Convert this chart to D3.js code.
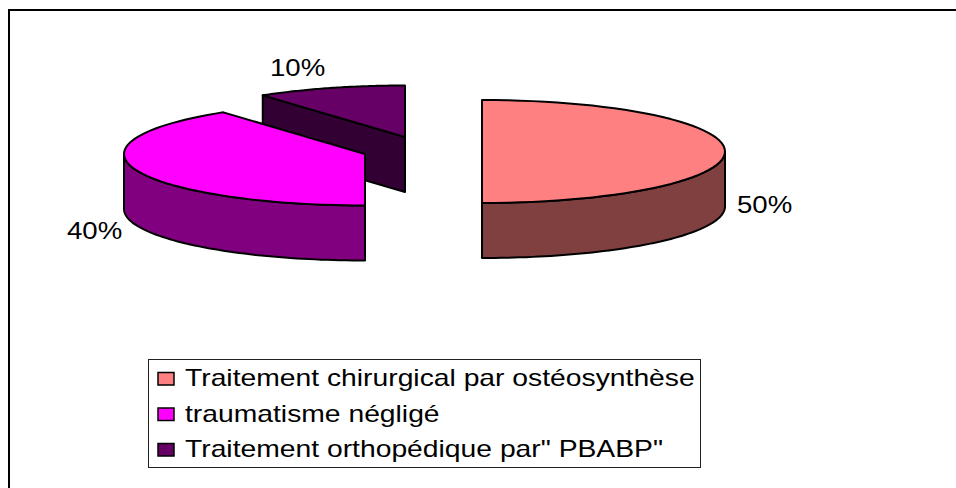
<!DOCTYPE html>
<html>
<head>
<meta charset="utf-8">
<script src="https://cdnjs.cloudflare.com/ajax/libs/d3/7.8.5/d3.min.js"></script>
<style>
body { margin: 0; background: #fff; }
svg { display: block; }
text { font-family: "Liberation Sans", Arial, sans-serif; fill: #000; }
</style>
</head>
<body>
<svg id="chart" width="956" height="488"></svg>
<script>
// chart values
var categories = ["Traitement chirurgical par ostéosynthèse", "traumatisme négligé", "Traitement orthopédique par\" PBABP\""];
var percentValues = [50, 40, 10];
var valueLabels = ["50%", "40%", "10%"];

var svg = d3.select("#chart");

// outer frame, open on the right and at the bottom
svg.append("path")
	.attr("d", "M9,488V10H956")
	.attr("fill", "none")
	.attr("stroke", "#000")
	.attr("stroke-width", 2);

// styles and exploded slice centres, same order as the data
var topColors = ["#ff8080", "#ff00ff", "#660066"];
var sideColors = ["#804040", "#800080", "#330033"];
var centers = [[482, 151.5], [365, 154], [405, 137]];
var radiiX = [243, 241, 242];
var labelPos = [[737, 213], [67, 239], [270, 76]];
var ry = 51.5, depth = 55;

var pie = d3.pie().sort(null);
var slices = pie(percentValues);
var lineGen = d3.line();

function pt(i, a, dy) {
	var c = centers[i];
	return [c[0] + radiiX[i] * Math.sin(a), c[1] - ry * Math.cos(a) + (dy || 0)];
}

// points along the rim between two angles
function rim(i, a0, a1, dy) {
	return d3.range(0, 61).map(function(k) {
		return pt(i, a0 + (a1 - a0) * k / 60, dy);
	});
}

var pieG = svg.append("g")
	.attr("stroke", "#000")
	.attr("stroke-width", 2)
	.attr("stroke-linejoin", "round");

// back slice first so the magenta one covers it
[2, 1, 0].forEach(function(i) {
	var s = slices[i], c = centers[i];
	var g = pieG.append("g");

	if (i == 2) {
		// wall of the cut that faces the viewer
		var p = pt(i, s.startAngle);
		g.append("path")
			.attr("d", lineGen([p, c, [c[0], c[1] + depth], [p[0], p[1] + depth]]) + "Z")
			.attr("fill", sideColors[i]);
	} else {
		// curved side along the front of the rim
		var a0 = i == 0 ? Math.PI / 2 : s.startAngle;
		var a1 = i == 0 ? s.endAngle : 3 * Math.PI / 2;
		var front = rim(i, a0, a1, 0).concat(rim(i, a1, a0, depth));
		g.append("path")
			.attr("d", lineGen(front) + "Z")
			.attr("fill", sideColors[i]);
	}

	// top face
	g.append("path")
		.attr("d", lineGen([c].concat(rim(i, s.startAngle, s.endAngle, 0))) + "Z")
		.attr("fill", topColors[i]);
});

// value labels, the reference text is stretched sideways
svg.selectAll(".value")
	.data(valueLabels)
	.enter()
	.append("text")
	.attr("class", "value")
	.attr("transform", function(d, i) {
		return "translate(" + labelPos[i][0] + "," + labelPos[i][1] + ")scale(1.15,1)";
	})
	.attr("font-size", 24)
	.text(function(d) { return d; });

// legend
var legend = svg.append("g");
legend.append("rect")
	.attr("x", 148.5).attr("y", 359.5)
	.attr("width", 552).attr("height", 108)
	.attr("fill", "#fff")
	.attr("stroke", "#222");

var legendY = d3.scalePoint().domain(categories).range([386, 457]);

var rows = legend.selectAll(".row")
	.data(categories)
	.enter()
	.append("g")
	.attr("class", "row")
	.attr("transform", function(d) { return "translate(0," + legendY(d) + ")"; });

rows.append("rect")
	.attr("x", 158).attr("y", -13.5)
	.attr("width", 16).attr("height", 12.5)
	.attr("fill", function(d, i) { return topColors[i]; })
	.attr("stroke", "#000")
	.attr("stroke-width", 1.5);

var rowText = rows.append("text")
	.attr("font-size", 24)
	.text(function(d) { return d; });

// same stretch on every row, set from the longest one
var stretch = 510 / rowText.node().getComputedTextLength();
rowText.attr("transform", "translate(185,0)scale(" + stretch + ",1)");
</script>
</body>
</html>
